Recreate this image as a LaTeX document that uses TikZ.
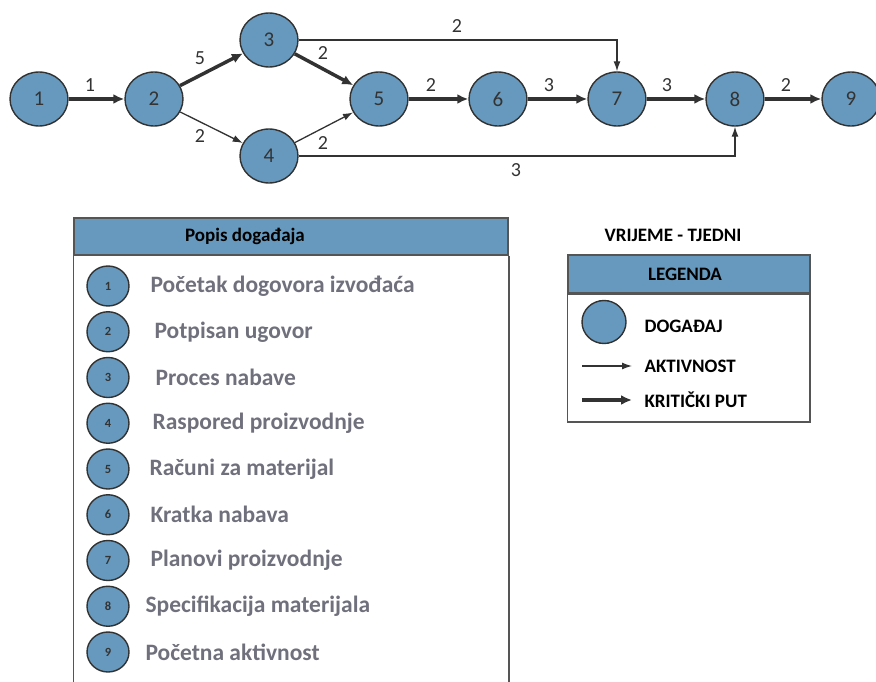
\documentclass[tikz,border=0pt]{standalone}
\usepackage{fontspec}
\setmainfont{Carlito}
\usetikzlibrary{arrows.meta, positioning, shapes.geometric}
\definecolor{eventblue}{RGB}{102,153,189}
\definecolor{listgray}{RGB}{112,112,124}
\definecolor{linegray}{RGB}{50,50,50}
\definecolor{boxgray}{RGB}{85,85,85}
\tikzset{
  event/.style={ellipse, draw=linegray, line width=1.4pt, fill=eventblue, minimum width=58pt, minimum height=54pt, inner sep=0pt, text=black!80, font=\fontsize{21}{21}\selectfont},
  smallevent/.style={ellipse, draw=linegray, line width=1.4pt, fill=eventblue, minimum width=42pt, minimum height=40pt, inner sep=0pt, text=black!80, font=\fontsize{12.5}{12.5}\selectfont\bfseries},
  act/.style={draw=linegray, line width=1.3pt, -{Latex[length=10pt,width=7pt]}},
  crit/.style={draw=linegray, line width=3.5pt, -{Latex[length=11pt,width=10pt]}},
  wt/.style={text=black!80, font=\fontsize{20}{20}\selectfont},
  eventtext/.style={anchor=west, text=listgray, font=\fontsize{23.5}{23.5}\selectfont\bfseries},
  headbox/.style={draw=boxgray, line width=1.5pt, fill=eventblue, inner sep=0pt},
  headtext/.style={font=\fontsize{19}{19}\selectfont\bfseries},
  legtext/.style={anchor=west, font=\fontsize{19}{19}\selectfont\bfseries},
}
\begin{document}
\begin{tikzpicture}[x=1pt, y=-1pt]
	\useasboundingbox (0,0) rectangle (876,682);

	% Network
	\foreach \i/\x/\y in {1/39/99, 2/154/99, 3/269/40, 4/269/156, 5/379/99, 6/498/99, 7/617/99, 8/735/99, 9/851/99}
		\node[event] (n\i) at (\x,\y) {\i};

	\draw[crit] (n1) -- (n2);
	\draw[crit] (n2) -- (n3);
	\draw[act] (n2) -- (n4);
	\draw[crit] (n3) -- (n5);
	\draw[act] (n4) -- (n5);
	\draw[crit] (n5) -- (n6);
	\draw[crit] (n6) -- (n7);
	\draw[crit] (n7) -- (n8);
	\draw[crit] (n8) -- (n9);
	\draw[act] (n3.east) -| (n7.north);
	\draw[act] (n4.east) -| (n8.south);

	\node[wt] (w12) at (90,85) {1};
	\node[wt] (w23) at (200,58) {5};
	\node[wt] (w24) at (200,136) {2};
	\node[wt] (w35) at (323,53) {2};
	\node[wt] (w45) at (323,143) {2};
	\node[wt] (w56) at (431,85) {2};
	\node[wt] (w67) at (549,85) {3};
	\node[wt] (w78) at (667,85) {3};
	\node[wt] (w89) at (786,85) {2};
	\node[wt] (w37) at (457,26) {2};
	\node[wt] (w48) at (516,170) {3};

	% Popis dogadaja
	\node[headbox, minimum width=434pt, minimum height=37pt] (listhead) at (291,236.5) {};
	\node[headtext] (listtitle) at (245,236.5) {Popis događaja};
	\draw[boxgray, line width=1.5pt] (listhead.south west) -- (listhead.south west |- 0,690);
	\draw[boxgray, line width=1.5pt] (listhead.south east) -- (listhead.south east |- 0,690);
	\foreach \i/\tx/\txt in {1/147/Početak dogovora izvođaća, 2/151/Potpisan ugovor, 3/152/Proces nabave, 4/149/Raspored proizvodnje, 5/146/Računi za materijal, 6/147/Kratka nabava, 7/147/Planovi proizvodnje, 8/142/Specifikacija materijala, 9/142/Početna aktivnost} {
		\node[smallevent] (e\i) at (108,{286+(\i-1)*45.75}) {\i};
		\node[eventtext] (t\i) at (\tx,{286+(\i-1)*45.75}) {\txt};
	}

	% Legenda
	\node[headtext] (units) at (673,235) {VRIJEME - TJEDNI};
	\node[headbox, minimum width=242pt, minimum height=38pt] (leghead) at (689,274) {};
	\node[headtext] (legtitle) at (685,274) {LEGENDA};
	\draw[boxgray, line width=1.5pt] (leghead.south west) rectangle (810,422);
	\node[event, minimum width=44pt, minimum height=43pt] (legevent) at (604,322) {};
	\node[legtext] (legeventtext) at (641,326) {DOGAĐAJ};
	\coordinate (acta) at (582,366);
	\coordinate (actb) at (632,366);
	\draw[act] (acta) -- (actb);
	\node[legtext] (legact) at (641,366) {AKTIVNOST};
	\coordinate (crita) at (582,400);
	\coordinate (critb) at (632,400);
	\draw[crit] (crita) -- (critb);
	\node[legtext] (legcrit) at (641,400) {KRITIČKI PUT};
\end{tikzpicture}
\end{document}
